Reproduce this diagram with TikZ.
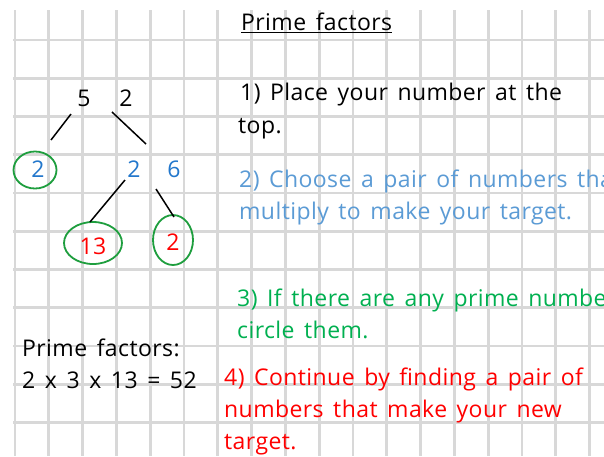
\documentclass[tikz,border=0pt]{standalone}
\usepackage{fontspec}
\setmainfont[LetterSpace=1.8,WordSpace={1.5,1,1}]{Open Sans}
\definecolor{gridgray}{HTML}{D8D8D8}
\definecolor{stepblue}{HTML}{5B9BD5}
\definecolor{treeblue}{HTML}{2277CC}
\definecolor{stepgreen}{HTML}{00B050}
\definecolor{ringgreen}{HTML}{1E9E3E}
\definecolor{stepred}{HTML}{FF0000}
\tikzset{
  txt/.style={anchor=base west, inner sep=0pt, font=\fontsize{23}{26}\selectfont},
  num/.style={anchor=base, inner sep=0pt, font=\fontsize{23}{26}\selectfont},
  ring/.style={draw=ringgreen, line width=1.8pt, ellipse},
  branch/.style={draw=black, line width=1.5pt},
  gridline/.style={draw=gridgray, line width=2.8pt}
}
\usetikzlibrary{shapes.geometric}
\begin{document}
\begin{tikzpicture}[x=1pt,y=-1pt]
\useasboundingbox (0,0) rectangle (604,456);
\fill[white] (0,0) rectangle (604,456);
% grid
\foreach \k in {0,...,17} { \draw[gridline] ({15+33.8*\k},10) -- ({15+33.8*\k},456); }
\foreach \k in {0,...,10} { \draw[gridline] (13,{40+38.25*\k}) -- (604,{40+38.25*\k}); }
% title
\node[txt] (title) at (241,30) {Prime factors};
\draw[line width=1pt] (title.south west) ++(0,2.5) -- ([yshift=-2.5pt]title.south east);
% steps
\node[txt] (s1a) at (240,100) {1) Place your number at the};
\node[txt] (s1b) at (238,133) {top.};
\node[txt, text=stepblue] (s2a) at (239,187) {2) Choose a pair of numbers that};
\node[txt, text=stepblue] (s2b) at (239,219) {multiply to make your target.};
\node[txt, text=stepgreen] (s3a) at (237,306) {3) If there are any prime numbers};
\node[txt, text=stepgreen] (s3b) at (237,338) {circle them.};
\node[txt, text=stepred] (s4a) at (224,385) {4) Continue by finding a pair of};
\node[txt, text=stepred] (s4b) at (224,417) {numbers that make your new};
\node[txt, text=stepred] (s4c) at (224,449) {target.};
% result
\node[txt] (pf) at (22,356) {Prime factors:};
\node[txt] (eq) at (22,388) {2 x 3 x 13 = 52};
% tree
\node[num] (t5) at (84,106) {5};
\node[num] (t2) at (126,106) {2};
\node[num, text=treeblue] (a2) at (38,177) {2};
\node[ring, minimum width=43pt, minimum height=37pt] (ra2) at (35,170) {};
\node[num, text=treeblue] (b2) at (134,177) {2};
\node[num, text=treeblue] (b6) at (174,177) {6};
\node[num, text=stepred] (c13) at (93,254) {13};
\node[ring, minimum width=58pt, minimum height=42pt] (rc13) at (93,243) {};
\node[num, text=stepred] (c2) at (173,250) {2};
\node[ring, minimum width=40pt, minimum height=50pt] (rc2) at (173,240) {};
\coordinate (l1a) at (71,114); \coordinate (l1b) at (51,140);
\coordinate (l2a) at (112,112); \coordinate (l2b) at (146,144);
\coordinate (l3a) at (125,180); \coordinate (l3b) at (90,222);
\coordinate (l4a) at (156,189); \coordinate (l4b) at (174,217);
\draw[branch] (l1a) -- (l1b);
\draw[branch] (l2a) -- (l2b);
\draw[branch] (l3a) -- (l3b);
\draw[branch] (l4a) -- (l4b);
\end{tikzpicture}
\end{document}
